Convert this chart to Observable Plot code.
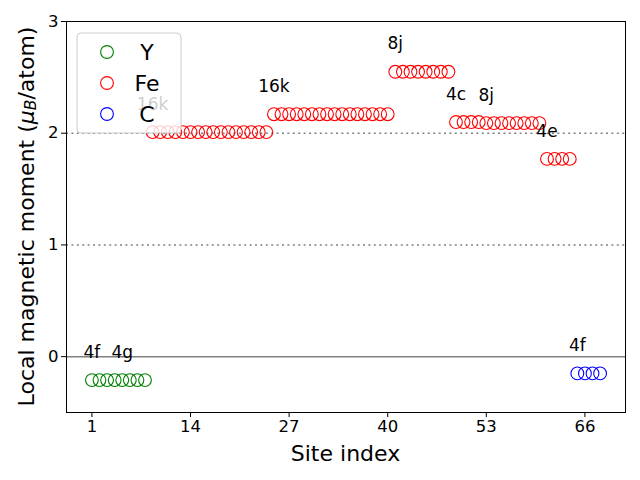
<!DOCTYPE html>
<html>
<head>
<meta charset="utf-8">
<script src="https://cdn.jsdelivr.net/npm/d3@7"></script>
<script src="https://cdn.jsdelivr.net/npm/@observablehq/plot@0.6"></script>
<style>
  html, body { margin: 0; padding: 0; background: white; }
</style>
</head>
<body>
<div id="chart"></div>
<script>
// ---- data ----
const elements = ["Y", "Fe", "C"];
const elementColors = ["green", "red", "blue"];

// per-site element and local moment (site index 1..68)
const siteElements = [
  "Y","Y","Y","Y","Y","Y","Y","Y",
  "Fe","Fe","Fe","Fe","Fe","Fe","Fe","Fe","Fe","Fe","Fe","Fe","Fe","Fe","Fe","Fe",
  "Fe","Fe","Fe","Fe","Fe","Fe","Fe","Fe","Fe","Fe","Fe","Fe","Fe","Fe","Fe","Fe",
  "Fe","Fe","Fe","Fe","Fe","Fe","Fe","Fe",
  "Fe","Fe","Fe","Fe",
  "Fe","Fe","Fe","Fe","Fe","Fe","Fe","Fe",
  "Fe","Fe","Fe","Fe",
  "C","C","C","C"
];
const siteMoments = [
  -0.21,-0.21,-0.21,-0.21,-0.21,-0.21,-0.21,-0.21,
  2.01,2.01,2.01,2.01,2.01,2.01,2.01,2.01,2.01,2.01,2.01,2.01,2.01,2.01,2.01,2.01,
  2.17,2.17,2.17,2.17,2.17,2.17,2.17,2.17,2.17,2.17,2.17,2.17,2.17,2.17,2.17,2.17,
  2.55,2.55,2.55,2.55,2.55,2.55,2.55,2.55,
  2.10,2.10,2.10,2.10,
  2.09,2.09,2.09,2.09,2.09,2.09,2.09,2.09,
  1.77,1.77,1.77,1.77,
  -0.15,-0.15,-0.15,-0.15
];

// Wyckoff labels: name and first site of each group
const wyckoffLabels = ["4f", "4g", "16k", "16k", "8j", "4c", "8j", "4e", "4f"];
const wyckoffStarts = [1, 5, 9, 25, 41, 49, 53, 61, 65];

const xTicks = [1, 14, 27, 40, 53, 66];
const yTicks = [0, 1, 2, 3];

// ---- tables built from arrays ----
const sites = siteMoments.map((m, i) => ({site: i + 1, m, el: siteElements[i]}));
const labels = wyckoffLabels.map((t, i) => ({
  text: t, site: wyckoffStarts[i], m: siteMoments[wyckoffStarts[i] - 1]
}));

const font = "DejaVu Sans, sans-serif";

const chart = Plot.plot({
  width: 640,
  height: 480,
  marginLeft: 66,
  marginRight: 15,
  marginTop: 21,
  marginBottom: 68,
  style: {fontFamily: font, background: "white", color: "black"},
  x: {domain: [-2.35, 71.35]},
  y: {domain: [-0.5, 3]},
  color: {domain: elements, range: elementColors},
  marks: [
    Plot.ruleY([1, 2], {stroke: "#808080", strokeWidth: 1.5, strokeDasharray: "2,3.4"}),
    Plot.ruleY([0], {stroke: "#808080", strokeWidth: 1.5}),
    Plot.dot(sites, {x: "site", y: "m", stroke: "el", fill: "none", r: 6.4, strokeWidth: 1.1}),
    Plot.text(labels, {
      x: "site", y: d => d.m + 0.2, text: "text",
      textAnchor: "middle", lineAnchor: "bottom", fontSize: 17, fill: "black"
    }),
    Plot.axisX({ticks: xTicks, tickSize: 5, tickPadding: 3, fontSize: 16.5, label: null, tickFormat: d3.format("d")}),
    Plot.axisY({ticks: yTicks, tickSize: 5, tickPadding: 3, fontSize: 16.5, label: null, tickFormat: d3.format("d")}),
    Plot.frame({stroke: "black", strokeWidth: 1})
  ]
});

document.getElementById("chart").appendChild(chart);

const svg = d3.select(chart);

// axis titles
svg.append("text")
  .attr("x", 345.5).attr("y", 453)
  .attr("text-anchor", "middle").attr("dominant-baseline", "central")
  .attr("font-family", font).attr("font-size", 22).attr("fill", "black")
  .text("Site index");

const yl = svg.append("text")
  .attr("transform", "translate(26,216.5) rotate(-90)")
  .attr("text-anchor", "middle").attr("dominant-baseline", "central")
  .attr("font-family", font).attr("font-size", 22).attr("fill", "black");
yl.append("tspan").text("Local magnetic moment (");
yl.append("tspan").attr("font-style", "italic").text("μ");
yl.append("tspan").attr("font-style", "italic").attr("font-size", 15.5).attr("dy", 5).text("B");
yl.append("tspan").attr("dy", -5).text("/atom)");

// legend
const lg = svg.append("g");
lg.append("rect")
  .attr("x", 77).attr("y", 33).attr("width", 104).attr("height", 100)
  .attr("rx", 4).attr("fill", "white").attr("fill-opacity", 0.8)
  .attr("stroke", "#cccccc").attr("stroke-width", 1);
elements.forEach((e, i) => {
  const cy = 52 + i * 31;
  lg.append("circle").attr("cx", 107).attr("cy", cy).attr("r", 6.4)
    .attr("fill", "none").attr("stroke", elementColors[i]).attr("stroke-width", 1.1);
  lg.append("text").attr("x", 147).attr("y", cy)
    .attr("dominant-baseline", "central")
    .attr("font-family", font).attr("font-size", 22).attr("fill", "black")
    .text(e);
});
</script>
</body>
</html>
